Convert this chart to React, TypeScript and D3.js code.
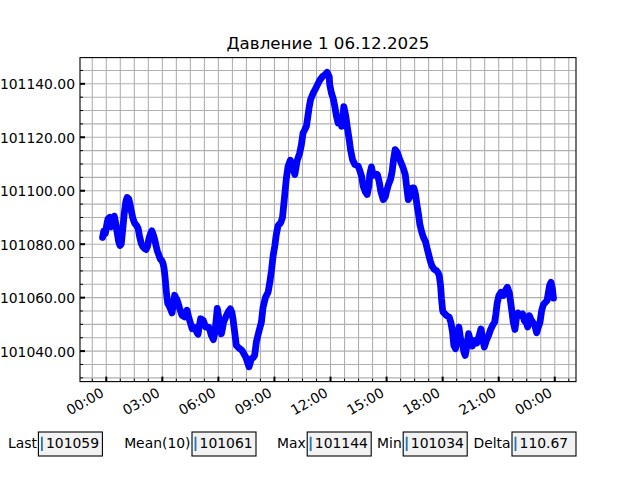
import React from 'react';
import * as d3 from 'd3';

const TITLE = 'Давление 1 06.12.2025';

// time in hours from 00:00 06.12.2025
const hours = [
  -0.2, -0.13, -0.05, 0.02, 0.09, 0.18, 0.26, 0.35, 0.43, 0.5, 0.58, 0.66, 0.73, 0.8, 0.88, 0.96,
  1.05, 1.12, 1.2, 1.27, 1.35, 1.43, 1.52, 1.62, 1.7, 1.78, 1.87, 1.96, 2.05, 2.13, 2.2, 2.28,
  2.37, 2.44, 2.52, 2.59, 2.66, 2.73, 2.81, 2.89, 2.96, 3.03, 3.09, 3.14, 3.19, 3.24, 3.29, 3.36,
  3.43, 3.52, 3.59, 3.66, 3.72, 3.78, 3.86, 3.93, 4.05, 4.19, 4.32, 4.4, 4.46, 4.59, 4.68, 4.77,
  4.85, 4.91, 4.98, 5.05, 5.19, 5.32, 5.48, 5.56, 5.62, 5.73, 5.8, 5.84, 5.9, 5.94, 6.03, 6.1,
  6.16, 6.22, 6.28, 6.43, 6.55, 6.64, 6.72, 6.78, 6.87, 6.96, 7.05, 7.14, 7.23, 7.32, 7.4, 7.46,
  7.55, 7.64, 7.7, 7.77, 7.86, 7.94, 8.03, 8.1, 8.18, 8.3, 8.39, 8.52, 8.66, 8.75, 8.84, 8.93,
  9.02, 9.1, 9.19, 9.34, 9.43, 9.5, 9.57, 9.64, 9.73, 9.85, 9.96, 10.05, 10.09, 10.15, 10.21, 10.35,
  10.44, 10.53, 10.62, 10.71, 10.8, 10.85, 10.93, 11.07, 11.21, 11.34, 11.43, 11.57, 11.69, 11.82, 11.93, 11.96,
  12.05, 12.14, 12.23, 12.32, 12.41, 12.5, 12.59, 12.68, 12.71, 12.82, 12.89, 13.0, 13.07, 13.18, 13.3, 13.48,
  13.57, 13.66, 13.75, 13.87, 13.96, 14.05, 14.1, 14.19, 14.28, 14.41, 14.51, 14.6, 14.69, 14.82, 14.93, 15.0,
  15.1, 15.21, 15.3, 15.37, 15.46, 15.57, 15.68, 15.78, 15.89, 16.0, 16.07, 16.16, 16.26, 16.37, 16.46, 16.55,
  16.62, 16.71, 16.78, 16.89, 16.98, 17.09, 17.16, 17.25, 17.34, 17.43, 17.55, 17.67, 17.75, 17.82, 17.89, 17.94,
  18.0, 18.03, 18.21, 18.35, 18.44, 18.53, 18.6, 18.69, 18.78, 18.87, 18.96, 19.05, 19.14, 19.21, 19.3, 19.39,
  19.48, 19.59, 19.71, 19.84, 19.96, 20.05, 20.14, 20.23, 20.34, 20.46, 20.57, 20.67, 20.78, 20.85, 20.92, 21.01,
  21.12, 21.25, 21.35, 21.46, 21.57, 21.64, 21.71, 21.78, 21.87, 21.94, 22.03, 22.16, 22.28, 22.37, 22.48, 22.55,
  22.64, 22.73, 22.84, 22.94, 23.03, 23.12, 23.21, 23.3, 23.39, 23.5, 23.59, 23.66, 23.73, 23.8, 23.87, 23.93,
];

const pressure = [
  101082.5, 101085.0, 101084.0, 101087.0, 101089.5, 101090.0, 101086.5, 101088.5, 101090.5, 101088.0, 101084.5, 101081.0, 101079.5, 101080.0, 101085.5, 101091.5,
  101096.0, 101097.5, 101097.0, 101095.0, 101092.0, 101089.5, 101087.8, 101087.0, 101086.0, 101083.0, 101080.3, 101079.0, 101078.4, 101078.0, 101079.0, 101082.0,
  101084.0, 101085.0, 101083.5, 101081.8, 101079.5, 101077.5, 101076.0, 101074.4, 101074.0, 101073.0, 101071.0, 101068.0, 101064.0, 101060.5, 101057.8, 101057.0,
  101055.9, 101054.3, 101058.0, 101060.9, 101060.0, 101059.3, 101057.5, 101055.9, 101053.4, 101052.8, 101055.3, 101053.0, 101051.5, 101048.4, 101049.0, 101048.4,
  101047.0, 101046.3, 101049.5, 101052.1, 101051.5, 101049.0, 101049.0, 101047.5, 101045.9, 101044.3, 101046.5, 101049.0, 101053.0, 101056.0, 101052.1, 101048.5,
  101046.5, 101048.5, 101050.8, 101053.3, 101055.0, 101055.8, 101054.5, 101052.1, 101047.1, 101042.1, 101041.5, 101040.9, 101040.5, 101039.6, 101038.5, 101037.8,
  101036.0, 101034.1, 101035.5, 101037.2, 101037.5, 101038.4, 101043.4, 101045.5, 101047.7, 101050.8, 101056.4, 101060.1, 101062.0, 101065.7, 101070.1, 101075.7,
  101079.4, 101083.7, 101086.9, 101088.1, 101090.0, 101094.9, 101099.9, 101104.9, 101109.2, 101111.4, 101109.8, 101107.0, 101106.1, 101108.5, 101111.1, 101114.1,
  101117.2, 101121.6, 101122.8, 101124.1, 101128.4, 101130.9, 101134.0, 101136.5, 101138.3, 101140.2, 101141.4, 101142.7, 101143.3, 101144.3, 101142.7, 101139.6,
  101136.5, 101134.6, 101131.5, 101127.8, 101125.3, 101127.2, 101124.1, 101129.0, 101131.5, 101127.8, 101124.1, 101119.1, 101115.4, 101111.6, 101109.8, 101109.2,
  101107.5, 101105.4, 101101.7, 101099.5, 101098.6, 101101.7, 101106.0, 101108.9, 101105.7, 101106.3, 101106.1, 101103.5, 101099.8, 101096.7, 101097.7, 101099.8,
  101102.3, 101104.2, 101107.3, 101111.6, 101115.4, 101114.4, 101112.2, 101110.4, 101108.5, 101106.0, 101101.7, 101096.7, 101098.0, 101101.1, 101101.1, 101098.6,
  101094.9, 101091.1, 101087.4, 101084.3, 101082.4, 101080.8, 101078.7, 101076.2, 101073.7, 101071.9, 101070.6, 101070.1, 101069.4, 101068.2, 101064.5, 101059.5,
  101055.2, 101054.6, 101053.3, 101052.7, 101050.8, 101047.1, 101042.1, 101040.9, 101045.9, 101049.0, 101044.6, 101042.8, 101039.6, 101038.4, 101042.1, 101046.5,
  101044.0, 101041.9, 101044.0, 101043.1, 101045.9, 101048.3, 101044.6, 101041.5, 101044.0, 101045.9, 101048.1, 101049.6, 101050.8, 101053.9, 101058.0, 101060.8,
  101062.0, 101060.8, 101062.6, 101063.9, 101061.8, 101058.3, 101054.6, 101050.8, 101048.1, 101052.1, 101054.3, 101053.3, 101053.9, 101051.4, 101050.6, 101049.0,
  101053.3, 101051.8, 101050.6, 101049.4, 101046.9, 101049.0, 101050.8, 101055.2, 101057.4, 101058.3, 101058.9, 101062.0, 101064.7, 101065.7, 101063.5, 101059.8,
];

const yTickValues = [101040, 101060, 101080, 101100, 101120, 101140];
const xTickHours = [0, 3, 6, 9, 12, 15, 18, 21, 24];
const xTickLabels = ['00:00', '03:00', '06:00', '09:00', '12:00', '15:00', '18:00', '21:00', '00:00'];

const statLabels = ['Last', 'Mean(10)', 'Max', 'Min', 'Delta'];
const statValues = ['101059', '101061', '101144', '101034', '110.67'];

// layout (figure fractions of widget boxes)
const boxLeftFrac = [0.06, 0.3, 0.48, 0.63, 0.8];

const FONT = 'DejaVu Sans, Liberation Sans, sans-serif';

export default function App() {
  const W = 640;
  const H = 480;
  const L = 80, R = 576, T = 57.6, B = 381.6;

  const [h0, h1] = d3.extent(hours) as [number, number];
  const [p0, p1] = d3.extent(pressure) as [number, number];
  const hs = h1 - h0;
  const ps = p1 - p0;
  const xDom: [number, number] = [h0 - 0.05 * hs, h1 + 0.05 * hs];
  const yDom: [number, number] = [p0 - 0.05 * ps, p1 + 0.05 * ps];
  const x = d3.scaleLinear().domain(xDom).range([L, R]);
  const y = d3.scaleLinear().domain(yDom).range([B, T]);

  const lineGen = d3
    .line<number>()
    .x((_, i) => x(hours[i]))
    .y((d) => y(d))
    .curve(d3.curveLinear);

  const xMinor = d3.range(Math.ceil(xDom[0] / 0.75) * 0.75, xDom[1], 0.75);
  const yMinor = d3.range(Math.ceil(yDom[0] / 5) * 5, yDom[1], 5);

  const fs = 13.9;

  return (
    <svg
      width={W}
      height={H}
      viewBox={`0 0 ${W} ${H}`}
      style={{ position: 'absolute', left: 0, top: 0, background: '#fff' }}
      fontFamily={FONT}
    >
      <rect x={0} y={0} width={W} height={H} fill="#fff" />
      {/* grid */}
      <g stroke="#b0b0b0" strokeWidth={1.1}>
        {xMinor.map((h, i) => (
          <line key={'gx' + i} x1={x(h)} x2={x(h)} y1={T} y2={B} />
        ))}
        {yMinor.map((v, i) => (
          <line key={'gy' + i} x1={L} x2={R} y1={y(v)} y2={y(v)} />
        ))}
      </g>
      {/* ticks (inward) */}
      <g stroke="#000">
        {xMinor.map((h, i) => (
          <line key={'mx' + i} x1={x(h)} x2={x(h)} y1={B} y2={B - 3} strokeWidth={1} />
        ))}
        {yMinor.map((v, i) => (
          <line key={'my' + i} x1={L} x2={L + 3} y1={y(v)} y2={y(v)} strokeWidth={1} />
        ))}
        {xTickHours.map((h, i) => (
          <line key={'tx' + i} x1={x(h)} x2={x(h)} y1={B} y2={B - 5} strokeWidth={2} />
        ))}
        {yTickValues.map((v, i) => (
          <line key={'ty' + i} x1={L} x2={L + 5} y1={y(v)} y2={y(v)} strokeWidth={2} />
        ))}
      </g>
      {/* data line */}
      <path
        d={lineGen(pressure) || ''}
        fill="none"
        stroke="#0000ff"
        strokeWidth={6.8}
        strokeLinejoin="round"
        strokeLinecap="round"
      />
      {/* spines */}
      <rect x={L} y={T} width={R - L} height={B - T} fill="none" stroke="#000" strokeWidth={1.1} />
      {/* y labels */}
      {yTickValues.map((v, i) => (
        <text
          key={'yl' + i}
          x={L - 5}
          y={y(v)}
          dy="0.4em"
          textAnchor="end"
          fontSize={fs}
          fill="#000"
        >
          {v.toFixed(2)}
        </text>
      ))}
      {/* x labels rotated */}
      {xTickHours.map((h, i) => (
        <text
          key={'xl' + i}
          transform={`translate(${x(h) - 1.5},${B + 14}) rotate(-30)`}
          textAnchor="end"
          fontSize={fs}
          fill="#000"
        >
          {xTickLabels[i]}
        </text>
      ))}
      {/* title */}
      <text x={(L + R) / 2} y={T - 8.3} textAnchor="middle" fontSize={16.7} fill="#000">
        {TITLE}
      </text>
      {/* stat boxes */}
      {statLabels.map((lab, i) => {
        const bx = boxLeftFrac[i] * W;
        const by = 432;
        const bw = 64;
        const bh = 24;
        return (
          <g key={'sb' + i}>
            <text x={bx - 1.5} y={448.3} textAnchor="end" fontSize={fs} fill="#000">
              {lab}
            </text>
            <rect x={bx} y={by} width={bw} height={bh} fill="#f2f2f2" stroke="#000" strokeWidth={1.1} />
            <line x1={bx + 3.5} x2={bx + 3.5} y1={436.7} y2={451} stroke="#1f77b4" strokeWidth={1.8} />
            <text x={bx + 7.6} y={448.3} fontSize={fs} fill="#000">
              {statValues[i]}
            </text>
          </g>
        );
      })}
    </svg>
  );
}
